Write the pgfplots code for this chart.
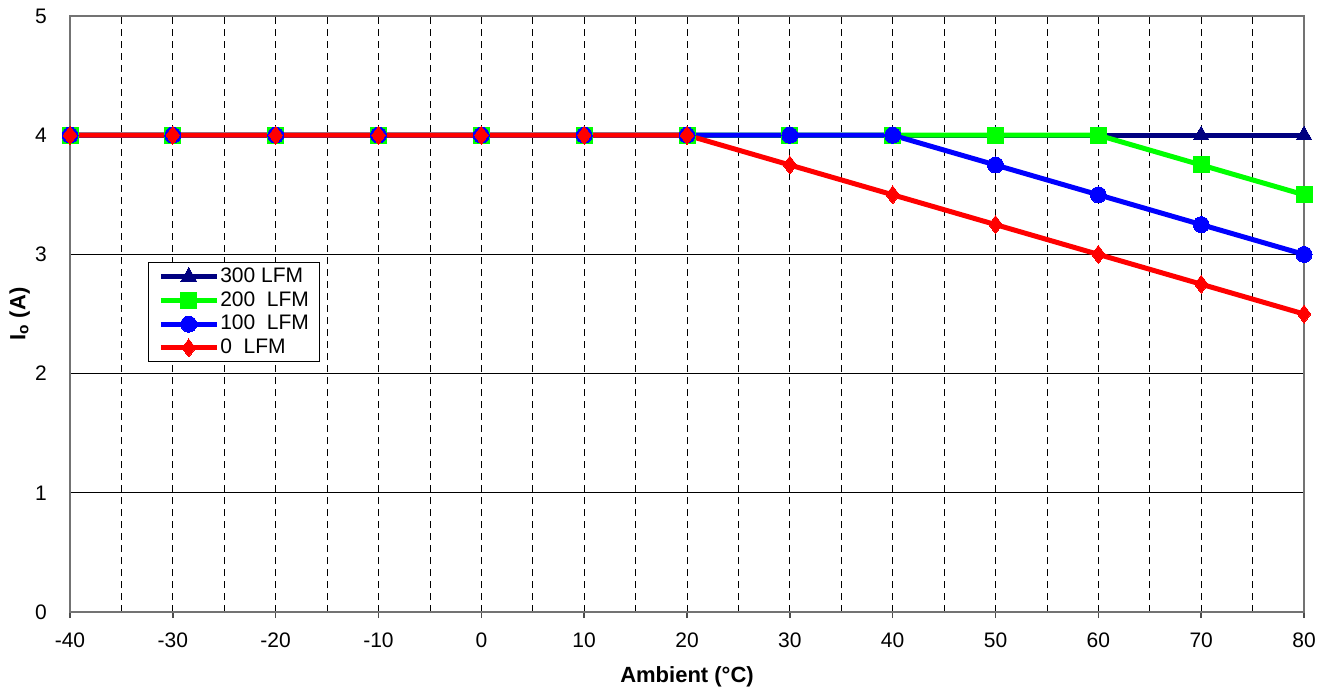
\documentclass[border=0pt]{standalone}
\usepackage{pgfplots}
\pgfplotsset{compat=1.18}
\usepackage{fontspec}
\setmainfont{Liberation Sans}
\definecolor{navyline}{RGB}{0,0,128}
\definecolor{greenline}{RGB}{0,255,0}
\definecolor{blueline}{RGB}{0,0,255}
\definecolor{redline}{RGB}{255,0,0}
\begin{document}
\begin{tikzpicture}
\fontsize{21}{24}\selectfont
\begin{axis}[
    scale only axis,
    width=1234pt, height=596pt,
    xmin=-40, xmax=80, ymin=0, ymax=5,
    xtick={-40,-30,...,80}, ytick={0,1,...,5},
    minor x tick num=1,
    xmajorgrids, xminorgrids, ymajorgrids,
    major x grid style={black, line width=0.8pt, dash pattern=on 7pt off 5pt},
    minor x grid style={black, line width=0.8pt, dash pattern=on 7pt off 5pt},
    major y grid style={black, line width=0.8pt},
    axis line style={draw=gray!90!black, line width=2pt},
    x tick style={draw=gray!60!black, line width=1.5pt},
    major tick length=6pt, minor tick length=0pt,
    tick align=outside,
    ytick style={draw=none},
    xtick pos=bottom, ytick pos=left,
    /pgf/number format/assume math mode=true,
    ticklabel style={font=\fontsize{21}{24}\selectfont},
    xticklabel style={yshift=-8pt},
    yticklabel style={xshift=-10pt},
    xlabel={\textbf{Ambient (°C)}},
    ylabel={\textbf{I\textsubscript{o} (A)}},
    label style={font=\fontsize{22}{26}\selectfont},
    xlabel style={yshift=-4pt},
    ylabel style={yshift=-9pt},
    legend style={at={(0.063,0.587)}, anchor=north west, draw=black, line width=1pt,
        font=\fontsize{21}{24}\selectfont, inner xsep=10pt, inner ysep=3pt, row sep=2pt,
        legend cell align=left, nodes={inner xsep=1pt, inner ysep=2pt}},
    legend image code/.code={%
        \draw[mark repeat=2, mark phase=2] plot coordinates {(0pt,0pt) (28pt,0pt) (56pt,0pt)};},
    every axis plot/.append style={line width=5pt},
    clip=false,
]
\addplot[navyline, mark=triangle*, mark size=9pt, mark options={line width=0pt}] coordinates {
    (-40,4) (-30,4) (-20,4) (-10,4) (0,4) (10,4) (20,4) (30,4) (40,4) (50,4) (60,4) (70,4) (80,4)};
\addlegendentry{300 LFM}
\addplot[greenline, mark=square*, mark size=8pt, mark options={line width=0pt}] coordinates {
    (-40,4) (-30,4) (-20,4) (-10,4) (0,4) (10,4) (20,4) (30,4) (40,4) (50,4) (60,4) (70,3.75) (80,3.5)};
\addlegendentry{200\ \ LFM}
\addplot[blueline, mark=*, mark size=8pt, mark options={line width=0pt}] coordinates {
    (-40,4) (-30,4) (-20,4) (-10,4) (0,4) (10,4) (20,4) (30,4) (40,4) (50,3.75) (60,3.5) (70,3.25) (80,3)};
\addlegendentry{100\ \ LFM}
\addplot[redline, mark=diamond*, mark size=9pt, mark options={line width=0pt}] coordinates {
    (-40,4) (-30,4) (-20,4) (-10,4) (0,4) (10,4) (20,4) (30,3.75) (40,3.5) (50,3.25) (60,3) (70,2.75) (80,2.5)};
\addlegendentry{0\ \ LFM}
\end{axis}
\pgfresetboundingbox
\path (current axis.south west) ++(-70pt,-76pt) rectangle ([xshift=22pt,yshift=16pt]current axis.north east);
\end{tikzpicture}
\end{document}
